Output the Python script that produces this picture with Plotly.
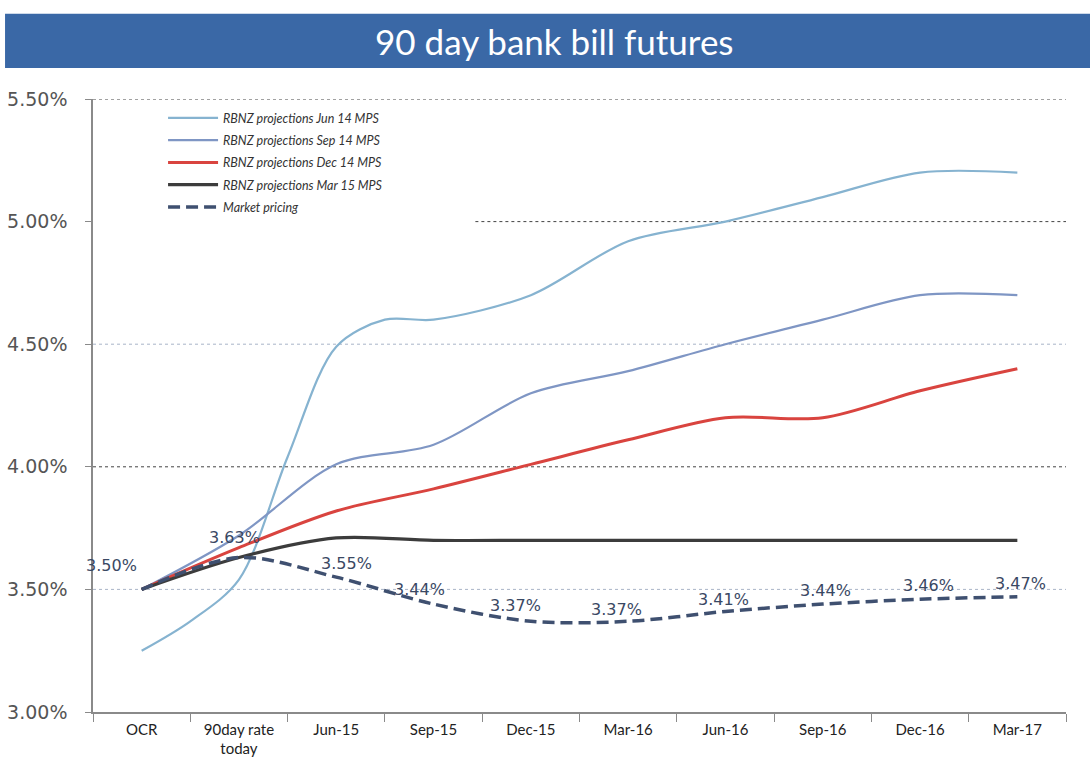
import plotly.graph_objects as go

# ---------------- data ----------------
categories = ["OCR", "90day rate<br>today", "Jun-15", "Sep-15", "Dec-15",
              "Mar-16", "Jun-16", "Sep-16", "Dec-16", "Mar-17"]
cat_pos = list(range(len(categories)))

# RBNZ Jun 14 MPS (read at extra half-category positions where the curve bends)
jun14_x = [0, 0.5, 1, 1.5, 2, 2.5, 3, 4, 5, 6, 7, 8, 9]
jun14_y = [3.25, 3.37, 3.54, 4.04, 4.49, 4.60, 4.60, 4.70, 4.92, 5.00, 5.10, 5.20, 5.20]

sep14_y = [3.50, 3.72, 4.01, 4.09, 4.30, 4.39, 4.50, 4.60, 4.70, 4.70]
dec14_y = [3.50, 3.67, 3.82, 3.91, 4.01, 4.11, 4.20, 4.20, 4.31, 4.40]
mar15_y = [3.50, 3.63, 3.71, 3.70, 3.70, 3.70, 3.70, 3.70, 3.70, 3.70]
market_y = [3.50, 3.63, 3.55, 3.44, 3.37, 3.37, 3.41, 3.44, 3.46, 3.47]

series_names = ["RBNZ projections Jun 14 MPS", "RBNZ projections Sep 14 MPS",
                "RBNZ projections Dec 14 MPS", "RBNZ projections Mar 15 MPS",
                "Market pricing"]

y_ticks = [3.0, 3.5, 4.0, 4.5, 5.0, 5.5]
y_tick_text = ["3.00%", "3.50%", "4.00%", "4.50%", "5.00%", "5.50%"]

# ---------------- styles ----------------
c_jun = "#86b3d0"
c_sep = "#7f96c4"
c_dec = "#d9443f"
c_mar = "#3c3c3c"
c_mkt = "#3f5070"
label_col = "#3a4863"
grid_styles = {3.5: "#a9b4c8", 4.0: "#444444", 4.5: "#a9b4c8", 5.0: "#444444", 5.5: "#444444"}
label_xshift = [-30, -4, 10, -14, -15, -12, -2, 3, 8, 3]
label_yshift = [24, 20, 14, 15, 16, 12, 12, 14, 14, 13]

fig = go.Figure()

line_specs = [
    (jun14_x, jun14_y, c_jun, 2.2, None),
    (cat_pos, sep14_y, c_sep, 2.2, None),
    (cat_pos, dec14_y, c_dec, 3.0, None),
    (cat_pos, mar15_y, c_mar, 3.2, None),
    (cat_pos, market_y, c_mkt, 3.5, "12px,6px"),
]
for k, (xs, ys, col, w, dash) in enumerate(line_specs):
    ln = dict(color=col, width=w, shape="spline", smoothing=0.9)
    if dash:
        ln["dash"] = dash
    fig.add_trace(go.Scatter(x=xs, y=ys, name=series_names[k], mode="lines",
                             legendgroup=f"g{k}", line=ln))

# data labels for market pricing
for i, v in enumerate(market_y):
    fig.add_annotation(x=cat_pos[i], y=v, text=f"{v:.2f}%", showarrow=False,
                       xshift=label_xshift[i], yshift=label_yshift[i],
                       font=dict(family="DejaVu Sans", size=16, color=label_col))

# gridlines as dotted shapes
for yv in y_ticks[1:]:
    x0 = 0.393 if yv == 5.0 else 0
    fig.add_shape(type="line", xref="paper", yref="y", x0=x0, x1=1, y0=yv, y1=yv,
                  line=dict(color=grid_styles[yv], width=1, dash="dot"), layer="below")

# title banner
fig.add_shape(type="rect", xref="paper", yref="paper", x0=-0.0904, x1=1.03,
              y0=1.0506, y1=1.139, fillcolor="#3a68a6", line=dict(width=0), layer="below")
fig.add_annotation(xref="paper", yref="paper", x=0.4748, y=1.0946,
                   xanchor="center", yanchor="middle",
                   text="90 day bank bill futures", showarrow=False,
                   font=dict(family="Lato", size=35, color="white"))

fig.update_layout(
    width=1090, height=762,
    margin=dict(l=93, r=24, t=99, b=50),
    paper_bgcolor="white", plot_bgcolor="white",
    showlegend=True,
    legend=dict(x=0.072, y=0.993, xanchor="left", yanchor="top",
                bgcolor="rgba(0,0,0,0)", itemwidth=50, tracegroupgap=3,
                font=dict(family="Lato", size=12.5, color="#333333", style="italic")),
    xaxis=dict(range=[-0.5, 9.5], tickvals=cat_pos, ticktext=categories,
               ticks="", showgrid=False, zeroline=False, automargin=False,
               showline=True, linecolor="#8a8a8a", linewidth=1.5,
               ticklabelstandoff=3,
               tickfont=dict(family="Lato", size=15, color="#222222"),
               minor=dict(tick0=0.5, dtick=1, ticks="outside", ticklen=8,
                          tickcolor="#8a8a8a", showgrid=False)),
    yaxis=dict(range=[3.0, 5.5], tickvals=y_ticks, ticktext=y_tick_text,
               ticks="outside", ticklen=6, tickcolor="#8a8a8a",
               showgrid=False, zeroline=False, automargin=False,
               showline=True, linecolor="#8a8a8a", linewidth=1.5,
               ticklabelstandoff=14,
               tickfont=dict(family="DejaVu Sans", size=19, color="#555555")),
)

fig.write_html("out.html")
